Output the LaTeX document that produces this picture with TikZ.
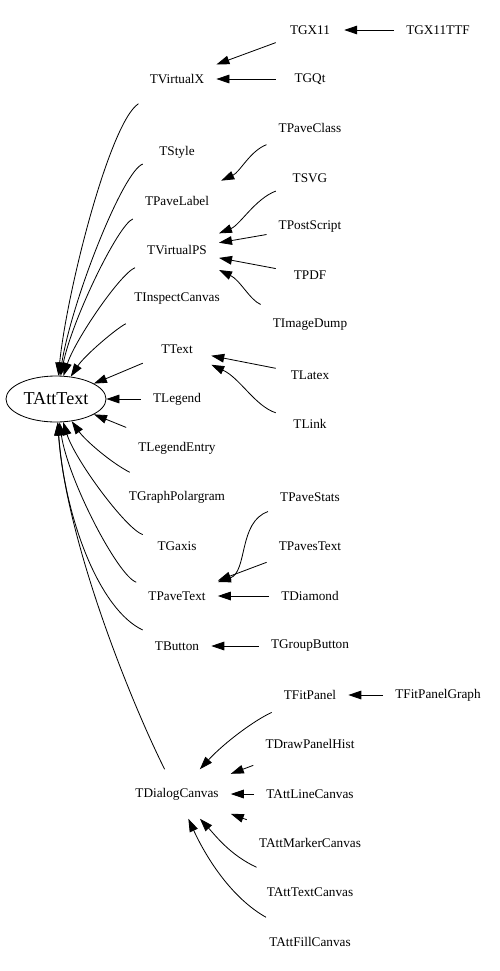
\documentclass[tikz,border=0pt]{standalone}
\usepackage{fontspec}
\setmainfont{Liberation Serif}
\usetikzlibrary{arrows.meta,shapes.geometric}

\begin{document}
\begin{tikzpicture}[
		x=0.03cm, y=-0.03cm,
		cls/.style={rectangle, inner xsep=0.36cm, inner ysep=0pt, minimum width=2.04cm, minimum height=1.47cm, font=\fontsize{11.3}{13}\selectfont},
		base/.style={draw, ellipse, line width=0.7pt, inner sep=0pt, minimum width=3cm, minimum height=1.38cm, font=\fontsize{15.5}{18}\selectfont},
		inh/.style={draw, ->, >={Triangle[length=0.39cm, width=0.26cm]}, line width=0.7pt},
		]
		\useasboundingbox (0,0) rectangle (499,971);
		\node[base] (TAttText) at (56,399) {TAttText};
		% first level
		\node[cls] (TVirtualX) at (177,79) {TVirtualX};
		\node[cls] (TStyle) at (177,152) {TStyle};
		\node[cls] (TPaveLabel) at (177,201) {TPaveLabel};
		\node[cls] (TVirtualPS) at (177,250) {TVirtualPS};
		\node[cls] (TInspectCanvas) at (177,299) {TInspectCanvas};
		\node[cls] (TText) at (177,349) {TText};
		\node[cls] (TLegend) at (177,399) {TLegend};
		\node[cls] (TLegendEntry) at (177,448) {TLegendEntry};
		\node[cls] (TGraphPolargram) at (177,497) {TGraphPolargram};
		\node[cls] (TGaxis) at (177,546) {TGaxis};
		\node[cls] (TPaveText) at (177,596) {TPaveText};
		\node[cls] (TButton) at (177,646) {TButton};
		\node[cls] (TDialogCanvas) at (177,794) {TDialogCanvas};
		% second level
		\node[cls] (TGX11) at (310,30) {TGX11};
		\node[cls] (TGQt) at (310,79) {TGQt};
		\node[cls] (TPaveClass) at (310,128) {TPaveClass};
		\node[cls] (TSVG) at (310,178) {TSVG};
		\node[cls] (TPostScript) at (310,227) {TPostScript};
		\node[cls] (TPDF) at (310,275) {TPDF};
		\node[cls] (TImageDump) at (310,325) {TImageDump};
		\node[cls] (TLatex) at (310,375) {TLatex};
		\node[cls] (TLink) at (310,424) {TLink};
		\node[cls] (TPaveStats) at (310,497) {TPaveStats};
		\node[cls] (TPavesText) at (310,546) {TPavesText};
		\node[cls] (TDiamond) at (310,596) {TDiamond};
		\node[cls] (TGroupButton) at (310,646) {TGroupButton};
		\node[cls] (TFitPanel) at (310,695) {TFitPanel};
		\node[cls] (TDrawPanelHist) at (310,744) {TDrawPanelHist};
		\node[cls] (TAttLineCanvas) at (310,794) {TAttLineCanvas};
		\node[cls] (TAttMarkerCanvas) at (310,843) {TAttMarkerCanvas};
		\node[cls] (TAttTextCanvas) at (310,892) {TAttTextCanvas};
		\node[cls] (TAttFillCanvas) at (310,942) {TAttFillCanvas};
		% third level
		\node[cls] (TGX11TTF) at (438,30) {TGX11TTF};
		\node[cls] (TFitPanelGraph) at (438,695) {TFitPanelGraph};

		\draw[inh] (TGX11TTF) -- (TGX11);
		\draw[inh] (TGX11) -- (TVirtualX);
		\draw[inh] (TGQt) -- (TVirtualX);
		\draw[inh] (TPaveClass) .. controls (250,151) and (240,172) .. (TPaveLabel);
		\draw[inh] (TSVG) .. controls (255,199) and (240,225) .. (TVirtualPS);
		\draw[inh] (TPostScript) -- (TVirtualPS);
		\draw[inh] (TPDF) -- (TVirtualPS);
		\draw[inh] (TImageDump) .. controls (250,300) and (240,280) .. (TVirtualPS);
		\draw[inh] (TLatex) -- (TText);
		\draw[inh] (TLink) .. controls (255,406) and (240,378) .. (TText);
		\draw[inh] (TPaveStats) .. controls (238,522) and (248,572) .. (TPaveText);
		\draw[inh] (TPavesText) -- (TPaveText);
		\draw[inh] (TDiamond) -- (TPaveText);
		\draw[inh] (TGroupButton) -- (TButton);
		\draw[inh] (TFitPanelGraph) -- (TFitPanel);
		\draw[inh] (TFitPanel) .. controls (255,720) and (225,742) .. (TDialogCanvas);
		\draw[inh] (TDrawPanelHist) -- (TDialogCanvas);
		\draw[inh] (TAttLineCanvas) -- (TDialogCanvas);
		\draw[inh] (TAttMarkerCanvas) -- (TDialogCanvas);
		\draw[inh] (TAttTextCanvas) .. controls (230,855) and (215,835) .. (TDialogCanvas);
		\draw[inh] (TAttFillCanvas) .. controls (230,897) and (205,855) .. (TDialogCanvas);
		% into the base class
		\draw[inh] (TVirtualX) .. controls (110,122) and (67,290) .. (TAttText);
		\draw[inh] (TStyle) .. controls (123,171) and (72,300) .. (TAttText);
		\draw[inh] (TPaveLabel) .. controls (118,225) and (72,320) .. (TAttText);
		\draw[inh] (TVirtualPS) .. controls (120,274) and (75,340) .. (TAttText);
		\draw[inh] (TInspectCanvas) .. controls (117,328) and (85,355) .. (TAttText);
		\draw[inh] (TText) .. controls (136,366) and (110,377) .. (TAttText);
		\draw[inh] (TLegend) -- (TAttText);
		\draw[inh] (TLegendEntry) -- (TAttText);
		\draw[inh] (TGraphPolargram) .. controls (110,462) and (85,440) .. (TAttText);
		\draw[inh] (TGaxis) .. controls (126,529) and (75,460) .. (TAttText);
		\draw[inh] (TPaveText) .. controls (118,576) and (68,480) .. (TAttText);
		\draw[inh] (TButton) .. controls (100,610) and (65,520) .. (TAttText);
		\draw[inh] (TDialogCanvas) .. controls (130,700) and (66,540) .. (TAttText);
	\end{tikzpicture}
\end{document}
